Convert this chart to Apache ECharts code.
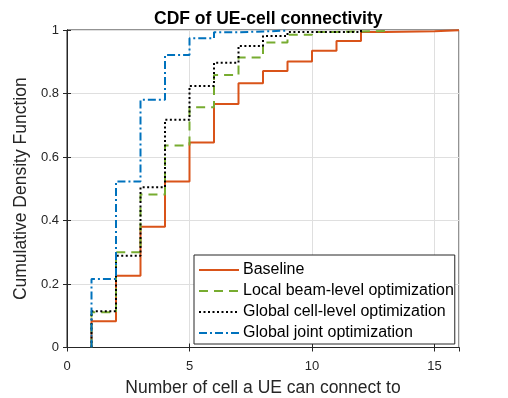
<!DOCTYPE html>
<html>
<head>
<meta charset="utf-8">
<script src="https://cdn.jsdelivr.net/npm/echarts@6/dist/echarts.min.js"></script>
<style>html,body{margin:0;padding:0;background:#fff}#chart{width:508px;height:398px}</style>
</head>
<body>
<div id="chart"></div>
<script>
// step x positions and CDF values
var baselineX = [1, 1, 2, 3, 4, 5, 6, 7, 8, 9, 10, 11, 12, 13, 15, 16];
var baselineY = [0, 0.083, 0.226, 0.38, 0.523, 0.646, 0.767, 0.832, 0.871, 0.901, 0.935, 0.965, 0.994, 0.996, 0.999, 1];
var localX = [1, 1, 2, 3, 4, 5, 6, 7, 8, 9, 10, 11, 13];
var localY = [0, 0.111, 0.30, 0.482, 0.636, 0.757, 0.858, 0.913, 0.961, 0.985, 0.994, 0.997, 1];
var cellX = [1, 1, 2, 3, 4, 5, 6, 7, 8, 9, 12];
var cellY = [0, 0.114, 0.289, 0.505, 0.717, 0.824, 0.897, 0.95, 0.981, 0.994, 1];
var jointX = [1, 1, 2, 3, 4, 5, 6, 7, 9];
var jointY = [0, 0.216, 0.523, 0.78, 0.921, 0.974, 0.993, 0.998, 1];
var names = ['Baseline', 'Local beam-level optimization', 'Global cell-level optimization', 'Global joint optimization'];

function pts(xs, ys) {
    var out = [];
    xs.forEach(function (v, i) { out.push([v, ys[i]]); });
    return out;
}

var font = 'Liberation Sans, Arial, sans-serif';
var myChart = echarts.init(document.getElementById('chart'));

function ser(name, data, color, type, width) {
    return {
        name: name, type: 'line', step: 'end', symbol: 'none', data: data,
        xAxisIndex: 0, yAxisIndex: 0,
        lineStyle: {color: color, type: type, width: width},
        itemStyle: {color: color}
    };
}

myChart.setOption({
    animation: false,
    title: {
        text: 'CDF of UE-cell connectivity', left: 149, top: 5,
        textStyle: {fontFamily: font, fontSize: 17.5, fontWeight: 'bold', color: '#000'}
    },
    grid: {left: 67, right: 49, top: 30, bottom: 50.5, outerBoundsMode: 'none',
        show: true, borderColor: '#262626', borderWidth: 1},
    legend: {
        orient: 'vertical', left: 194, top: 255, itemWidth: 40, itemHeight: 14, itemGap: 5,
        padding: [7, 1, 3, 4],
        backgroundColor: '#fff', borderColor: '#262626', borderWidth: 1,
        itemStyle: {opacity: 0},
        textStyle: {fontFamily: font, fontSize: 16, lineHeight: 14, color: '#000', padding: [0, 0, 0, -1]},
        data: names
    },
    xAxis: [{
        type: 'value', min: 0, max: 16, interval: 5,
        name: 'Number of cell a UE can connect to', nameLocation: 'middle', nameGap: 32,
        nameTextStyle: {fontFamily: font, fontSize: 17.5, color: '#262626'},
        axisLine: {lineStyle: {color: '#262626'}},
        axisTick: {inside: true, length: 4, lineStyle: {color: '#262626'}},
        axisLabel: {fontFamily: font, fontSize: 13, color: '#262626', margin: 12, showMaxLabel: false},
        splitLine: {lineStyle: {color: '#dfdfdf'}}
    }, {
        type: 'value', min: 0, max: 16, interval: 5, position: 'top',
        axisLine: {show: true, lineStyle: {color: '#262626'}},
        axisTick: {inside: true, length: 4, lineStyle: {color: '#262626'}},
        axisLabel: {show: false}, splitLine: {show: false}
    }],
    yAxis: [{
        type: 'value', min: 0, max: 1, interval: 0.2,
        name: 'Cumulative Density Function', nameLocation: 'middle', nameGap: 34,
        nameTextStyle: {fontFamily: font, fontSize: 17.5, color: '#262626'},
        axisLine: {show: true, lineStyle: {color: '#262626'}},
        axisTick: {show: true, inside: true, length: 4, lineStyle: {color: '#262626'}},
        axisLabel: {fontFamily: font, fontSize: 13, color: '#262626', margin: 8,
            formatter: function (v) { return String(+v.toFixed(1)); }},
        splitLine: {lineStyle: {color: '#dfdfdf'}}
    }, {
        type: 'value', min: 0, max: 1, interval: 0.2, position: 'right',
        axisLine: {show: true, lineStyle: {color: '#262626'}},
        axisTick: {show: true, inside: true, length: 4, lineStyle: {color: '#262626'}},
        axisLabel: {show: false}, splitLine: {show: false}
    }],
    series: [
        ser(names[0], pts(baselineX, baselineY), '#D95319', 'solid', 2),
        ser(names[1], pts(localX, localY), '#77AC30', [9, 6], 2),
        ser(names[2], pts(cellX, cellY), '#000000', [2, 2.5], 2),
        ser(names[3], pts(jointX, jointY), '#0072BD', [8, 3, 2, 3], 2)
    ]
});
</script>
</body>
</html>
